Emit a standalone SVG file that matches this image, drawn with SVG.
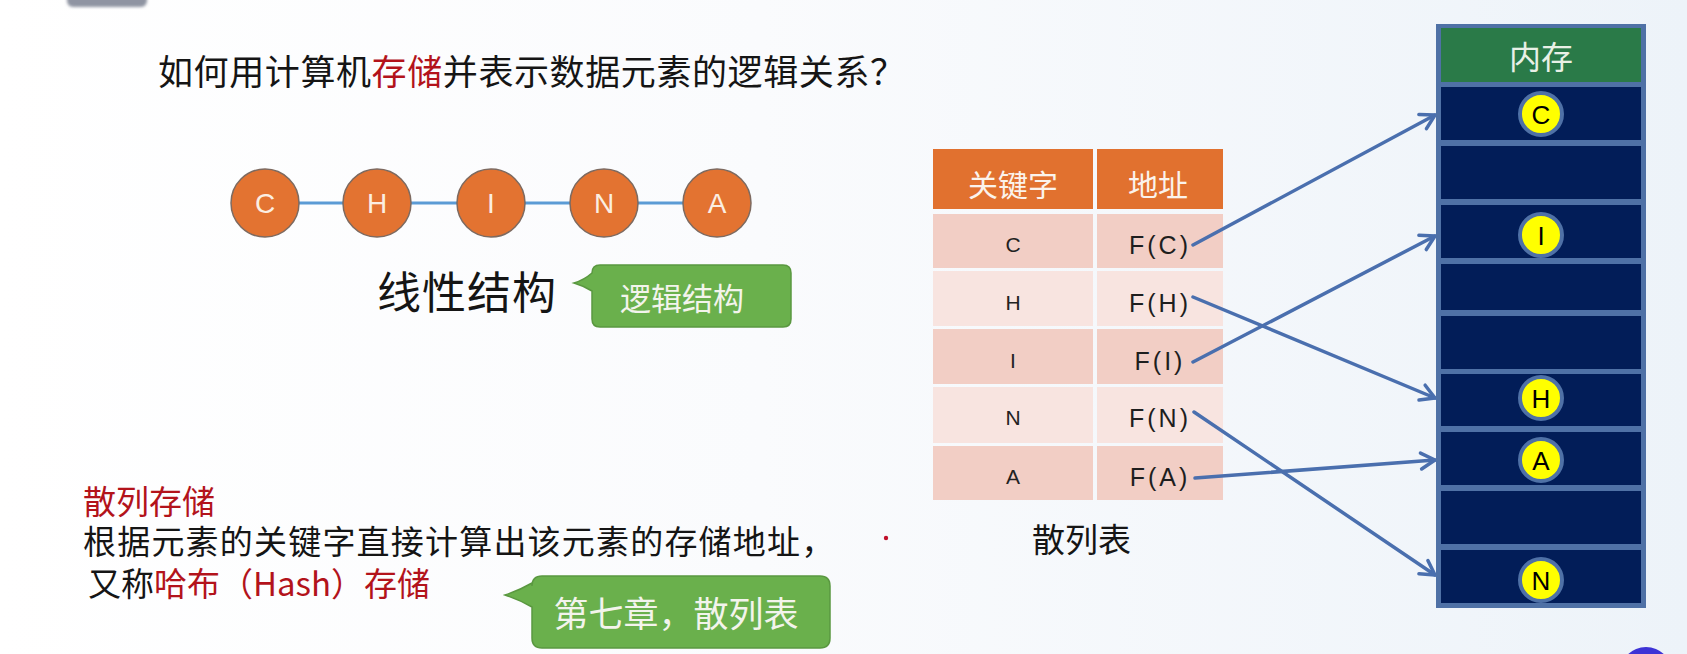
<svg xmlns="http://www.w3.org/2000/svg" width="1687" height="654" viewBox="0 0 1687 654">
<defs>
<linearGradient id="bg" x1="0" y1="0" x2="1" y2="0">
<stop offset="0" stop-color="#ffffff"/>
<stop offset="0.45" stop-color="#fafbfd"/>
<stop offset="1" stop-color="#edf3f9"/>
</linearGradient>
<filter id="blur" x="-20%" y="-50%" width="140%" height="200%"><feGaussianBlur stdDeviation="1.6"/></filter>
<marker id="arr" markerUnits="userSpaceOnUse" markerWidth="22" markerHeight="22" viewBox="0 0 22 22" refX="19" refY="11" orient="auto">
<path d="M5,3 L19,11 L5,19" fill="none" stroke="#4a6fae" stroke-width="3.5" stroke-linecap="round" stroke-linejoin="round"/>
</marker>
<style>
.cjk{font-family:"Noto Sans CJK SC","Noto Sans",sans-serif;}
.lat{font-family:"Liberation Sans",Arial,sans-serif;}
.red{fill:#b3131b;}
.blk{fill:#151515;}
.ball{fill:#e37331;stroke:#7d6a60;stroke-width:1.5;}
.balltxt{font-family:"Liberation Sans",Arial,sans-serif;font-size:28px;fill:#fbeee2;text-anchor:middle;}
.hdr{fill:#e1712f;}
.rowd{fill:#f2cec5;}
.rowl{fill:#f8e4e0;}
.key{font-family:"Liberation Sans",Arial,sans-serif;font-size:21px;fill:#222;text-anchor:middle;}
.addr{font-family:"Liberation Sans",Arial,sans-serif;font-size:25px;fill:#1e1e1e;text-anchor:middle;letter-spacing:3px;}
.cell{fill:#021d58;}
.yb{fill:#ffff00;stroke:#4f71a6;stroke-width:4;}
.ytxt{font-family:"Liberation Sans",Arial,sans-serif;font-size:26px;fill:#000;text-anchor:middle;}
.callout{fill:#6ab04c;stroke:#5a9840;stroke-width:1.5;}
.calltxt{font-family:"Noto Sans CJK SC","Noto Sans",sans-serif;fill:#f3f4ec;text-anchor:middle;}
.link{stroke:#5b9bd5;stroke-width:3;fill:none;}
.arrow{stroke:#4a6fae;stroke-width:3.5;fill:none;stroke-linecap:round;marker-end:url(#arr);}
</style>
</defs>
<rect width="1687" height="654" fill="url(#bg)"/>
<rect x="67" y="-12" width="80" height="19" rx="6" fill="#8f94a2" filter="url(#blur)"/>
<circle cx="1646" cy="673" r="26" fill="#3d33d6"/>

<g id="title">
<text class="cjk blk" x="158" y="85" font-size="35" letter-spacing="0.6">如何用计算机<tspan class="red">存储</tspan>并表示数据元素的逻辑关系？</text>
</g>

<g id="hash-table">
<rect class="hdr" x="933" y="149" width="160" height="60"/>
<rect class="hdr" x="1097" y="149" width="126" height="60"/>
<text class="cjk" x="1013" y="196" font-size="30" fill="#fbf3ec" text-anchor="middle">关键字</text>
<text class="cjk" x="1158" y="196" font-size="30" fill="#fbf3ec" text-anchor="middle">地址</text>
<rect class="rowd" x="933" y="214" width="160" height="54"/><rect class="rowd" x="1097" y="214" width="126" height="54"/>
<rect class="rowl" x="933" y="271" width="160" height="55"/><rect class="rowl" x="1097" y="271" width="126" height="55"/>
<rect class="rowd" x="933" y="329" width="160" height="55"/><rect class="rowd" x="1097" y="329" width="126" height="55"/>
<rect class="rowl" x="933" y="387" width="160" height="56"/><rect class="rowl" x="1097" y="387" width="126" height="56"/>
<rect class="rowd" x="933" y="446" width="160" height="54"/><rect class="rowd" x="1097" y="446" width="126" height="54"/>
<text class="key" x="1013" y="252">C</text><text class="addr" x="1160" y="254">F(C)</text>
<text class="key" x="1013" y="310">H</text><text class="addr" x="1160" y="312">F(H)</text>
<text class="key" x="1013" y="368">I</text><text class="addr" x="1160" y="370">F(I)</text>
<text class="key" x="1013" y="425">N</text><text class="addr" x="1160" y="427">F(N)</text>
<text class="key" x="1013" y="484">A</text><text class="addr" x="1160" y="486">F(A)</text>
</g>

<g id="connectors">
<line class="link" x1="265" y1="203" x2="717" y2="203"/>
<line class="arrow" x1="1193" y1="245" x2="1435" y2="115"/>
<line class="arrow" x1="1193" y1="297" x2="1435" y2="398"/>
<line class="arrow" x1="1193" y1="362" x2="1435" y2="236"/>
<line class="arrow" x1="1194" y1="412" x2="1435" y2="575"/>
<line class="arrow" x1="1195" y1="478" x2="1435" y2="460"/>
</g>

<g id="node-C"><ellipse class="ball" cx="265" cy="203" rx="34" ry="34"/><text class="balltxt" x="265" y="213">C</text></g>
<g id="node-H"><ellipse class="ball" cx="377" cy="203" rx="34" ry="34"/><text class="balltxt" x="377" y="213">H</text></g>
<g id="node-I"><ellipse class="ball" cx="491" cy="203" rx="34" ry="34"/><text class="balltxt" x="491" y="213">I</text></g>
<g id="node-N"><ellipse class="ball" cx="604" cy="203" rx="34" ry="34"/><text class="balltxt" x="604" y="213">N</text></g>
<g id="node-A"><ellipse class="ball" cx="717" cy="203" rx="34" ry="34"/><text class="balltxt" x="717" y="213">A</text></g>

<g id="label-linear">
<text class="cjk blk" x="377" y="309" font-size="44" letter-spacing="1">线性结构</text>
</g>

<g id="callout-logic">
<path class="callout" d="M600,265 H783 Q791,265 791,273 V319 Q791,327 783,327 H600 Q592,327 592,319 V291 Q584,286 574,283 Q584,280 592,273 Q592,265 600,265 Z"/>
<text class="calltxt" x="682" y="310" font-size="31">逻辑结构</text>
</g>

<g id="label-hashtable">
<text class="cjk blk" x="1032" y="552" font-size="33">散列表</text>
<circle cx="886" cy="538" r="2.2" fill="#c0102a"/>
</g>

<g id="memory">
<rect x="1436" y="24" width="210" height="584" fill="#4f71a6"/>
<rect x="1441" y="28" width="200" height="54" fill="#2a7a48"/>
<text class="cjk" x="1541" y="69" font-size="32" fill="#e8f0e6" text-anchor="middle">内存</text>
<rect class="cell" x="1441" y="87" width="200" height="53"/>
<rect class="cell" x="1441" y="146" width="200" height="53"/>
<rect class="cell" x="1441" y="205" width="200" height="53"/>
<rect class="cell" x="1441" y="264" width="200" height="46"/>
<rect class="cell" x="1441" y="316" width="200" height="53"/>
<rect class="cell" x="1441" y="374" width="200" height="52"/>
<rect class="cell" x="1441" y="432" width="200" height="53"/>
<rect class="cell" x="1441" y="491" width="200" height="53"/>
<rect class="cell" x="1441" y="550" width="200" height="53"/>
<circle class="yb" cx="1541" cy="114" r="21"/><text class="ytxt" x="1541" y="123.5">C</text>
<circle class="yb" cx="1541" cy="235" r="21"/><text class="ytxt" x="1541" y="244.5">I</text>
<circle class="yb" cx="1541" cy="398" r="21"/><text class="ytxt" x="1541" y="407.5">H</text>
<circle class="yb" cx="1541" cy="460" r="21"/><text class="ytxt" x="1541" y="469.5">A</text>
<circle class="yb" cx="1541" cy="580" r="21"/><text class="ytxt" x="1541" y="589.5">N</text>
</g>

<g id="hash-storage-text">
<text class="cjk red" x="83" y="514" font-size="33">散列存储</text>
<text class="cjk blk" x="83" y="554" font-size="33" letter-spacing="1.2">根据元素的关键字直接计算出该元素的存储地址，</text>
<text class="cjk blk" x="88" y="596" font-size="33">又称<tspan class="red">哈布（Hash）存储</tspan></text>
</g>

<g id="callout-chapter">
<path class="callout" d="M542,576 H820 Q830,576 830,586 V638 Q830,648 820,648 H542 Q532,648 532,638 V607 Q520,600 505,595 Q520,590 532,583 V586 Q532,576 542,576 Z"/>
<text class="calltxt" x="676" y="627" font-size="35">第七章，散列表</text>
</g>
</svg>
